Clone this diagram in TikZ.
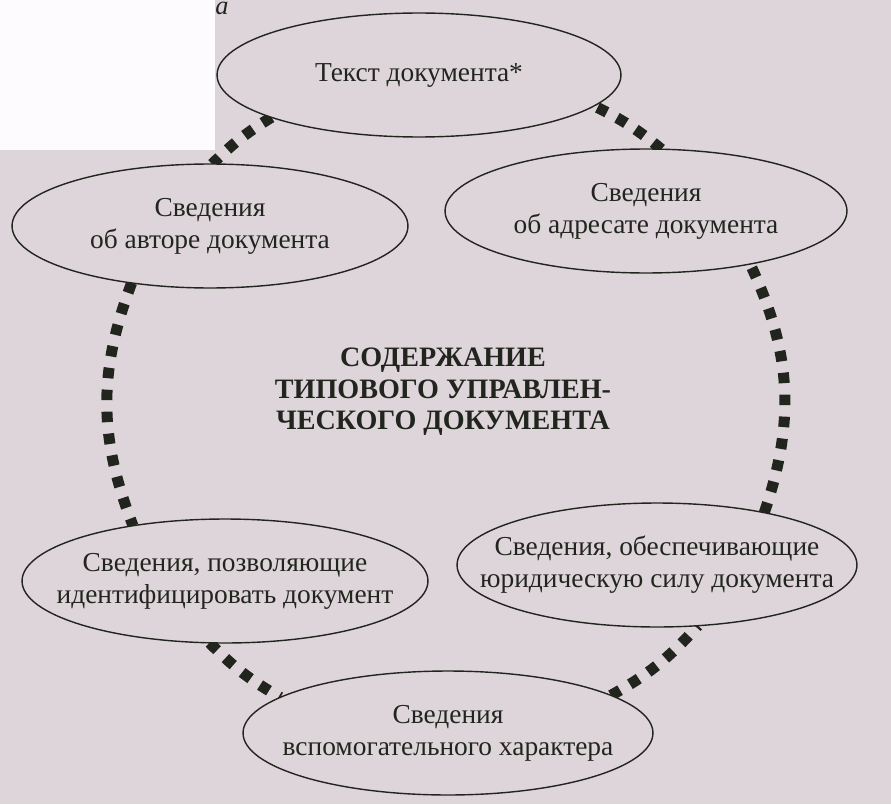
\documentclass[tikz,border=0pt]{standalone}
\usepackage{fontspec}
\setmainfont{Liberation Serif}
\usepackage{tikz}
\usetikzlibrary{shapes.geometric, backgrounds}
\definecolor{grispapier}{RGB}{221, 213, 218}
\definecolor{blancscan}{RGB}{253, 251, 254}
\definecolor{encre}{RGB}{34, 37, 30}

\begin{document}
\begin{tikzpicture}[x=0.02cm, y=-0.02cm, font=\fontsize{15.6}{18.2}\selectfont,
    ovale/.style={ellipse, draw=encre, line width=0.8pt, fill=grispapier, text=encre, align=center,
      inner xsep=-1.4cm, inner ysep=0pt, outer sep=0pt, minimum height=2.48cm},
    pointille/.style={encre, line width=0.22cm, dash pattern=on 0.21cm off 0.23cm}]
    % cadre
    \useasboundingbox (0,0) rectangle (891,804);
    % ovales
    \node[ovale, minimum width=8.08cm] (tekst) at (419,75) {Текст документа*};
    \node[ovale, minimum width=7.92cm] (avtor) at (210,226) {Сведения\\об авторе документа};
    \node[ovale, minimum width=8.04cm] (adresat) at (646,211) {Сведения\\об адресате документа};
    \node[ovale, minimum width=8.12cm] (ident) at (225,581) {Сведения, позволяющие\\идентифицировать документ};
    \node[ovale, minimum width=8.00cm] (sila) at (657,565) {Сведения, обеспечивающие\\юридическую силу документа};
    \node[ovale, minimum width=8.20cm] (vspom) at (448,733) {Сведения\\вспомогательного характера};
    % titre central
    \node[font=\fontsize{16}{18}\selectfont\bfseries, align=center, text=encre] (titre) at (443,392)
      {СОДЕРЖАНИЕ\\ТИПОВОГО УПРАВЛЕН-\\ЧЕСКОГО ДОКУМЕНТА};
    % lettre de la figure
    \node[anchor=base, inner sep=0pt, font=\fontsize{15}{18}\selectfont\itshape, text=encre] (lettre) at (222,15) {а};
    \begin{scope}[on background layer]
      % fond
      \fill[grispapier] (0,0) rectangle (891,804);
      \fill[blancscan] (0,0) rectangle (215,150);
      % liaisons pointillees
      \draw[pointille] (tekst.196) to[bend right=6.5] (avtor.88);
      \draw[pointille] (avtor.216) to[bend right=21] (ident.149);
      \draw[pointille] (ident.-104.5) to[bend right=7.75] (vspom.168);
      \draw[pointille] (vspom.13) to[bend right=9.5] (sila.-56.6);
      \draw[pointille] (sila.26.5) to[bend right=22] (adresat.-27.3);
      \draw[pointille] (adresat.76) to[bend right=6.75] (tekst.-10);
    \end{scope}
\end{tikzpicture}
\end{document}
